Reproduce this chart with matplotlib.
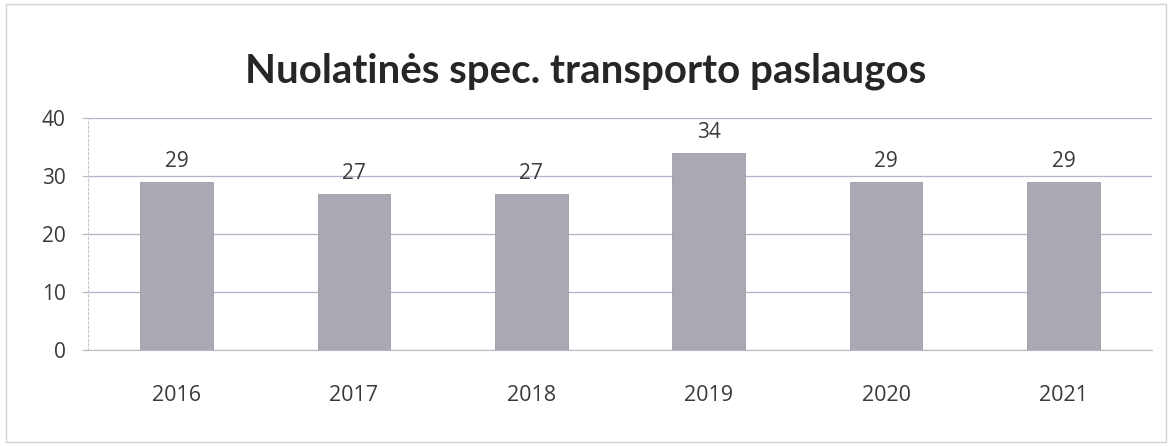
import matplotlib.pyplot as plt
from matplotlib.patches import Rectangle

# ------------------------------------------
# DATA
# ------------------------------------------
years = ['2016', '2017', '2018', '2019', '2020', '2021']
values = [29, 27, 27, 34, 29, 29]
y_ticks = [0, 10, 20, 30, 40]

plt.rcParams['font.family'] = ['Lato', 'DejaVu Sans']
num_font = ['Open Sans', 'DejaVu Sans']

fig = plt.figure(figsize=(11.72, 4.46), dpi=100)
ax = fig.add_axes([0.075, 0.215, 0.908, 0.52])

x = range(len(years))
bars = ax.bar(x, values, width=0.41, color='#a9a9b4', edgecolor='#9d9da8', linewidth=0.6, zorder=3)

# value labels above bars
for rect, v in zip(bars, values):
    ax.annotate(str(v), (rect.get_x() + rect.get_width() / 2, rect.get_height()),
                xytext=(0, 7), textcoords='offset points', ha='center', va='bottom',
                fontsize=15, family=num_font, color='#3a3a3a')

ax.set_xlim(-0.5, len(years) - 0.5)
ax.set_ylim(0, 40)
ax.set_yticks(y_ticks)
ax.set_xticks(list(x))
ax.set_xticklabels(years)
ax.tick_params(axis='x', length=0, pad=25, labelsize=15.5, labelcolor='#3a3a3a')
ax.tick_params(axis='y', length=4, color='#b8b8c0', pad=12, labelsize=15, labelcolor='#3a3a3a')
for lbl in ax.get_xticklabels() + ax.get_yticklabels():
    lbl.set_family(num_font)

ax.yaxis.grid(True, color='#b4b4c8', linewidth=0.9, zorder=0)
for s in ['top', 'right']:
    ax.spines[s].set_visible(False)
ax.spines['left'].set_color('#c8c8cc')
ax.spines['left'].set_linestyle((0, (2, 2)))
ax.spines['bottom'].set_color('#b8b8c4')

fig.text(0.5, 0.84, 'Nuolatinės spec. transporto paslaugos', ha='center', va='center',
         fontsize=29, fontweight='bold', color='#262626')

# light frame of the chart area
fig.patches.append(Rectangle((0.005, 0.01), 0.99, 0.98, transform=fig.transFigure,
                             fill=False, edgecolor='#d4d4d4', linewidth=1))

fig.savefig('out.png', dpi=100)
